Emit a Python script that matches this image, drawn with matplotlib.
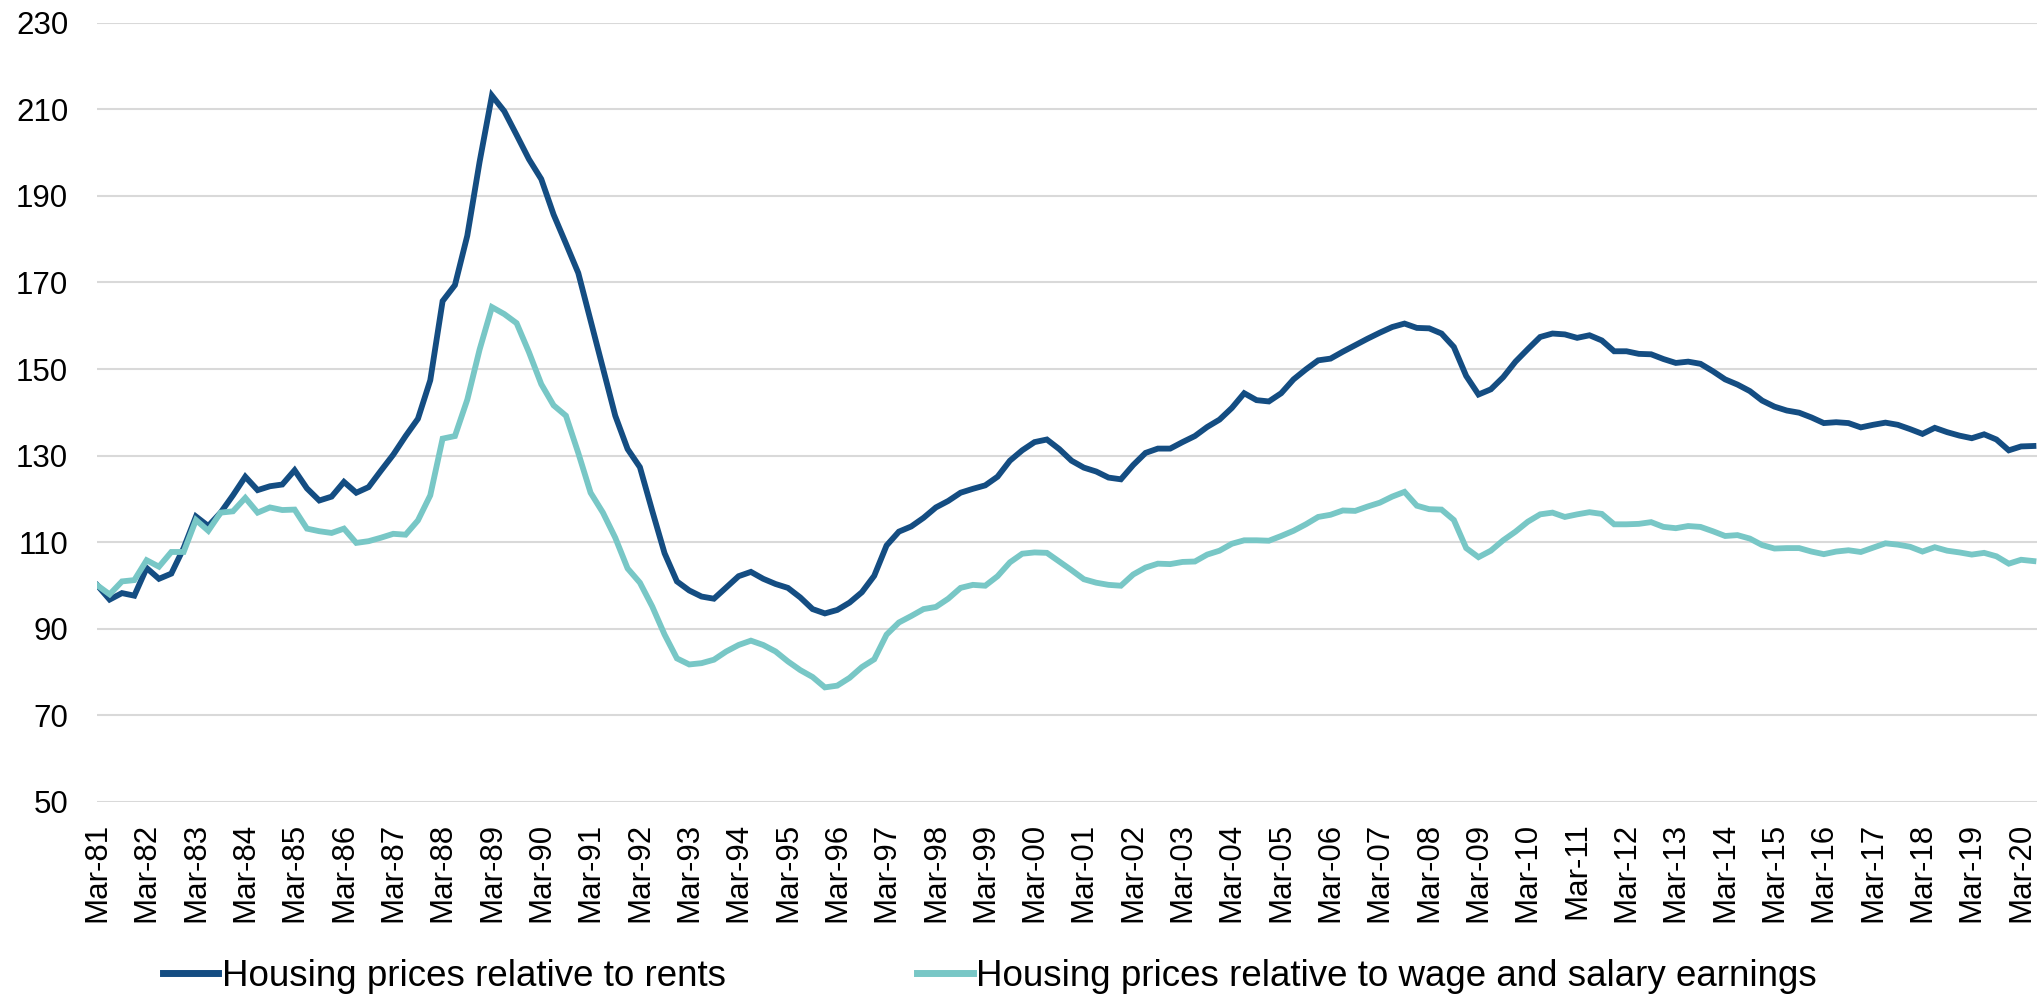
import matplotlib
matplotlib.use("Agg")
import matplotlib.pyplot as plt
import numpy as np

# quarterly series, Mar-81 .. Jun-20 (index = 100 at Mar-81)
rents = [
    100.0, 96.7, 98.2, 97.6, 104.0, 101.5, 102.7, 108.6,
    115.9, 113.7, 116.8, 120.8, 125.1, 122.0, 122.9, 123.3,
    126.6, 122.4, 119.6, 120.5, 123.9, 121.4, 122.7, 126.5,
    130.2, 134.5, 138.5, 147.4, 165.7, 169.4, 180.8, 197.9,
    213.2, 209.6, 204.1, 198.5, 193.9, 185.7, 179.0, 172.2,
    161.2, 150.2, 139.2, 131.5, 127.3, 117.2, 107.4, 100.9,
    98.8, 97.4, 96.9, 99.5, 102.1, 103.1, 101.5, 100.3,
    99.4, 97.2, 94.5, 93.5, 94.3, 96.0, 98.4, 102.2,
    109.2, 112.4, 113.6, 115.6, 118.0, 119.5, 121.4, 122.3,
    123.1, 125.1, 128.8, 131.2, 133.1, 133.7, 131.5, 128.8,
    127.2, 126.3, 124.9, 124.5, 127.8, 130.6, 131.6, 131.6,
    133.1, 134.5, 136.6, 138.3, 141.0, 144.4, 142.8, 142.5,
    144.4, 147.6, 149.9, 152.0, 152.4, 154.0, 155.5, 157.0,
    158.4, 159.7, 160.5, 159.5, 159.4, 158.2, 155.1, 148.4,
    144.1, 145.3, 148.1, 151.7, 154.6, 157.4, 158.2, 158.0,
    157.2, 157.8, 156.6, 154.1, 154.1, 153.5, 153.4, 152.3,
    151.4, 151.7, 151.2, 149.5, 147.6, 146.4, 144.9, 142.7,
    141.3, 140.4, 139.9, 138.8, 137.5, 137.7, 137.5, 136.5,
    137.1, 137.6, 137.1, 136.1, 135.0, 136.4, 135.4, 134.6,
    134.0, 134.9, 133.7, 131.2, 132.1, 132.2,
]

wages = [
    100.0, 97.9, 100.9, 101.2, 105.8, 104.3, 107.7, 107.7,
    115.1, 112.6, 116.8, 117.1, 120.2, 116.8, 118.0, 117.4,
    117.5, 113.1, 112.5, 112.1, 113.1, 109.8, 110.2, 111.0,
    111.9, 111.7, 115.0, 120.8, 133.9, 134.5, 142.9, 154.5,
    164.3, 162.7, 160.6, 153.9, 146.5, 141.6, 139.2, 130.6,
    121.4, 116.8, 111.0, 103.9, 100.6, 95.1, 88.6, 83.1,
    81.7, 82.0, 82.8, 84.7, 86.2, 87.2, 86.2, 84.7,
    82.4, 80.4, 78.8, 76.4, 76.8, 78.6, 81.1, 82.9,
    88.6, 91.4, 92.9, 94.5, 95.0, 96.9, 99.4, 100.1,
    99.9, 102.1, 105.3, 107.3, 107.6, 107.5, 105.5, 103.5,
    101.4, 100.6, 100.1, 99.9, 102.5, 104.1, 105.0, 104.9,
    105.4, 105.5, 107.1, 108.0, 109.6, 110.4, 110.4, 110.3,
    111.4, 112.6, 114.1, 115.8, 116.3, 117.3, 117.2, 118.2,
    119.1, 120.5, 121.6, 118.4, 117.6, 117.5, 115.1, 108.6,
    106.5, 108.0, 110.4, 112.4, 114.7, 116.4, 116.8, 115.8,
    116.4, 116.9, 116.5, 114.1, 114.1, 114.2, 114.6, 113.5,
    113.2, 113.7, 113.5, 112.5, 111.4, 111.6, 110.8, 109.3,
    108.5, 108.6, 108.6, 107.8, 107.2, 107.8, 108.1, 107.7,
    108.7, 109.7, 109.4, 108.9, 107.8, 108.8, 108.0, 107.6,
    107.1, 107.5, 106.7, 105.0, 105.9, 105.6,
]

years = list(range(1981, 2021))
tick_labels = [f"Mar-{y % 100:02d}" for y in years]
y_ticks = list(range(50, 231, 20))

DARK = "#144d82"
TEAL = "#78c7c6"

x = np.arange(len(rents))

plt.rcParams["font.family"] = ["Liberation Sans", "DejaVu Sans"]

fig = plt.figure(figsize=(20.4, 9.97), dpi=100)
ax = fig.add_axes([0.0477, 0.196, 0.9509, 0.781])

ax.plot(x, rents, color=DARK, lw=4.2, solid_joinstyle="miter",
        label="Housing prices relative to rents", zorder=3)
ax.plot(x, wages, color=TEAL, lw=4.2, solid_joinstyle="miter",
        label="Housing prices relative to wage and salary earnings", zorder=3)

ax.set_xlim(0, 157.3)
ax.set_ylim(50, 230)
ax.set_yticks(y_ticks)
ax.set_xticks(np.arange(0, len(years) * 4, 4))
ax.set_xticklabels(tick_labels, rotation=90, fontsize=22.5)
ax.tick_params(axis="y", labelsize=22.5, length=0, pad=21)
ax.tick_params(axis="x", length=0, pad=15)
ax.grid(axis="y", color="#d9d9d9", lw=1.5)
ax.set_axisbelow(True)
for s in ax.spines.values():
    s.set_visible(False)

leg = fig.legend(loc="center", bbox_to_anchor=(0.4853, 0.021), ncol=2,
                 frameon=False, fontsize=26.5, handlelength=1.5,
                 handletextpad=0.1, columnspacing=5.2)
for line in leg.get_lines():
    line.set_linewidth(5)

fig.savefig("out.png", dpi=100)
